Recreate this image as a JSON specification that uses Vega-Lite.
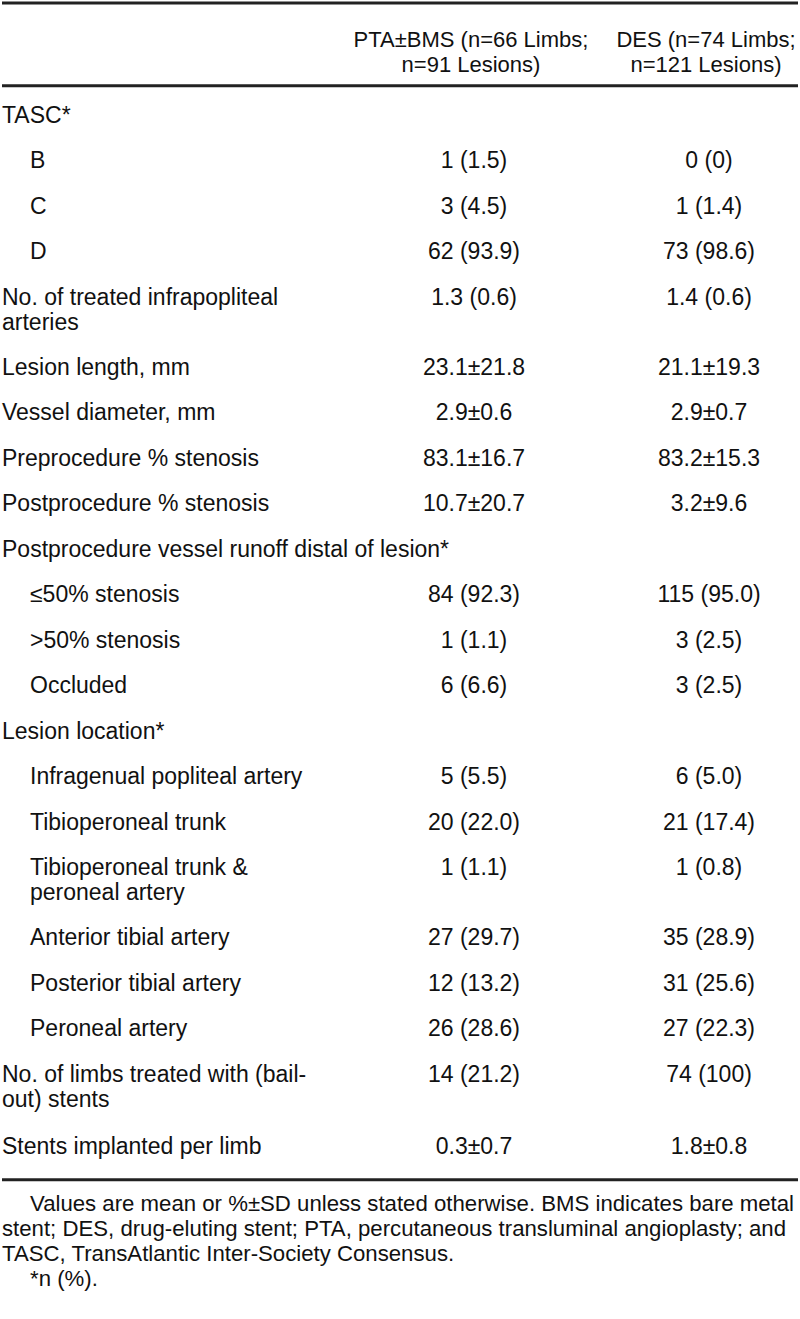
{
  "$schema": "https://vega.github.io/schema/vega-lite/v6.json",
  "width": 800,
  "height": 1319,
  "autosize": {"type": "fit", "contains": "padding"},
  "padding": 0,
  "background": "white",
  "config": {"view": {"stroke": null}, "text": {"font": "Liberation Sans", "fontSize": 23, "color": "#111"}},
  "datasets": {
    "rows": [
      {"pos": 0, "label": "TASC*", "ind": 0, "bms": "", "des": ""},
      {"pos": 1, "label": "B", "ind": 1, "bms": "1 (1.5)", "des": "0 (0)"},
      {"pos": 2, "label": "C", "ind": 1, "bms": "3 (4.5)", "des": "1 (1.4)"},
      {"pos": 3, "label": "D", "ind": 1, "bms": "62 (93.9)", "des": "73 (98.6)"},
      {"pos": 4, "label": "No. of treated infrapopliteal\narteries", "ind": 0, "bms": "1.3 (0.6)", "des": "1.4 (0.6)"},
      {"pos": 5.53, "label": "Lesion length, mm", "ind": 0, "bms": "23.1±21.8", "des": "21.1±19.3"},
      {"pos": 6.53, "label": "Vessel diameter, mm", "ind": 0, "bms": "2.9±0.6", "des": "2.9±0.7"},
      {"pos": 7.53, "label": "Preprocedure % stenosis", "ind": 0, "bms": "83.1±16.7", "des": "83.2±15.3"},
      {"pos": 8.53, "label": "Postprocedure % stenosis", "ind": 0, "bms": "10.7±20.7", "des": "3.2±9.6"},
      {"pos": 9.53, "label": "Postprocedure vessel runoff distal of lesion*", "ind": 0, "bms": "", "des": ""},
      {"pos": 10.53, "label": "≤50% stenosis", "ind": 1, "bms": "84 (92.3)", "des": "115 (95.0)"},
      {"pos": 11.53, "label": ">50% stenosis", "ind": 1, "bms": "1 (1.1)", "des": "3 (2.5)"},
      {"pos": 12.53, "label": "Occluded", "ind": 1, "bms": "6 (6.6)", "des": "3 (2.5)"},
      {"pos": 13.53, "label": "Lesion location*", "ind": 0, "bms": "", "des": ""},
      {"pos": 14.53, "label": "Infragenual popliteal artery", "ind": 1, "bms": "5 (5.5)", "des": "6 (5.0)"},
      {"pos": 15.53, "label": "Tibioperoneal trunk", "ind": 1, "bms": "20 (22.0)", "des": "21 (17.4)"},
      {"pos": 16.53, "label": "Tibioperoneal trunk &\nperoneal artery", "ind": 1, "bms": "1 (1.1)", "des": "1 (0.8)"},
      {"pos": 18.07, "label": "Anterior tibial artery", "ind": 1, "bms": "27 (29.7)", "des": "35 (28.9)"},
      {"pos": 19.07, "label": "Posterior tibial artery", "ind": 1, "bms": "12 (13.2)", "des": "31 (25.6)"},
      {"pos": 20.07, "label": "Peroneal artery", "ind": 1, "bms": "26 (28.6)", "des": "27 (22.3)"},
      {"pos": 21.07, "label": "No. of limbs treated with (bail-\nout) stents", "ind": 0, "bms": "14 (21.2)", "des": "74 (100)"},
      {"pos": 22.65, "label": "Stents implanted per limb", "ind": 0, "bms": "0.3±0.7", "des": "1.8±0.8"}
    ],
    "header": [
      {"pos": -1.67, "col": 2, "text": "PTA±BMS (n=66 Limbs;\nn=91 Lesions)"},
      {"pos": -1.67, "col": 3, "text": "DES (n=74 Limbs;\nn=121 Lesions)"}
    ],
    "rules": [
      {"pos": -2.46},
      {"pos": -0.64},
      {"pos": 23.4}
    ],
    "notes": [
      {"pos": 23.9, "ind": 1, "text": "Values are mean or %±SD unless stated otherwise. BMS indicates bare metal"},
      {"pos": 24.45, "ind": 0, "text": "stent; DES, drug-eluting stent; PTA, percutaneous transluminal angioplasty; and"},
      {"pos": 25.0, "ind": 0, "text": "TASC, TransAtlantic Inter-Society Consensus."},
      {"pos": 25.55, "ind": 1, "text": "*n (%)."}
    ]
  },
  "layer": [
    {
      "data": {"name": "rules"},
      "mark": {"type": "rule", "stroke": "#222", "strokeWidth": 3},
      "encoding": {
        "y": {"field": "pos", "type": "quantitative", "axis": null, "scale": {"domain": [-2.527, 26.46], "reverse": true, "zero": false, "nice": false}}
      }
    },
    {
      "data": {"name": "header"},
      "mark": {"type": "text", "align": "center", "baseline": "alphabetic", "dy": 8, "dx": -3, "fontSize": 22, "lineBreak": "\n", "lineHeight": 25},
      "encoding": {
        "x": {"field": "col", "type": "quantitative", "axis": null, "scale": {"domain": [0, 1, 2, 3], "range": [0, 28, 472, 707], "zero": false, "nice": false}},
        "y": {"field": "pos", "type": "quantitative", "axis": null},
        "text": {"field": "text"}
      }
    },
    {
      "data": {"name": "rows"},
      "mark": {"type": "text", "align": "left", "baseline": "alphabetic", "dy": 8, "lineBreak": "\n", "lineHeight": 25},
      "encoding": {
        "x": {"field": "ind", "type": "quantitative", "axis": null},
        "y": {"field": "pos", "type": "quantitative", "axis": null},
        "text": {"field": "label"}
      }
    },
    {
      "data": {"name": "rows"},
      "transform": [
        {"fold": ["bms", "des"], "as": ["group", "value"]},
        {"filter": "datum.value !== ''"},
        {"calculate": "datum.group === 'bms' ? 2 : 3", "as": "col"}
      ],
      "mark": {"type": "text", "align": "center", "baseline": "alphabetic", "dy": 8},
      "encoding": {
        "x": {"field": "col", "type": "quantitative", "axis": null},
        "y": {"field": "pos", "type": "quantitative", "axis": null},
        "text": {"field": "value"}
      }
    },
    {
      "data": {"name": "notes"},
      "mark": {"type": "text", "align": "left", "baseline": "alphabetic", "dy": 8, "fontSize": 22.2},
      "encoding": {
        "x": {"field": "ind", "type": "quantitative", "axis": null},
        "y": {"field": "pos", "type": "quantitative", "axis": null},
        "text": {"field": "text"}
      }
    }
  ]
}
